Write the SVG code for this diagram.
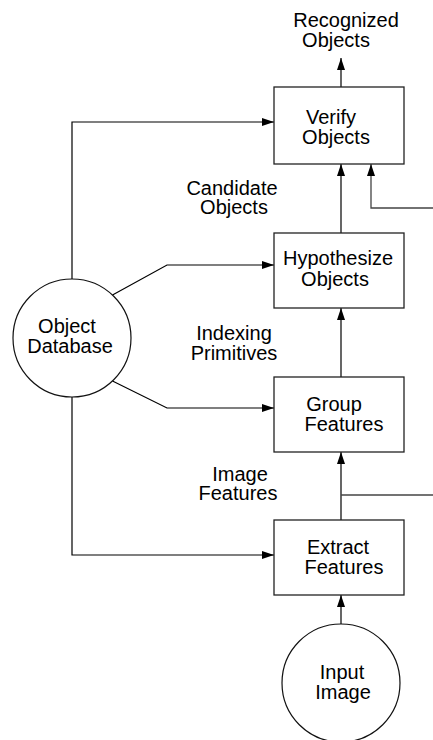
<svg xmlns="http://www.w3.org/2000/svg" width="433" height="740" viewBox="0 0 433 740">
<style>
.box{fill:#fff;stroke:#222;stroke-width:1.3}
.node{fill:#fff;stroke:#111;stroke-width:1.2}
.lbl{font-family:"Liberation Sans",Arial,Helvetica,sans-serif;font-size:20px;fill:#000;text-anchor:middle}
.con{fill:none;stroke:#000;stroke-width:1.2}
.side{fill:none;stroke:#444;stroke-width:1.3}
</style>
<defs>
<marker id="ah" viewBox="0 0 12 8" refX="12" refY="4" markerWidth="12" markerHeight="8" markerUnits="userSpaceOnUse" orient="auto">
<path d="M0,0 L12,4 L0,8 z" fill="#000"/>
</marker>
</defs>
<rect width="433" height="740" fill="#fff"/>
<g id="connectors">
<line class="con" x1="341" y1="87" x2="341" y2="58" marker-end="url(#ah)"/>
<line class="con" x1="341" y1="233" x2="341" y2="164" marker-end="url(#ah)"/>
<polyline class="side" points="433,208 371,208 371,164" marker-end="url(#ah)"/>
<line class="con" x1="341" y1="377" x2="341" y2="308" marker-end="url(#ah)"/>
<line class="con" x1="341" y1="520" x2="341" y2="452" marker-end="url(#ah)"/>
<line class="side" x1="341" y1="495" x2="433" y2="495"/>
<line class="con" x1="341" y1="624" x2="341" y2="595" marker-end="url(#ah)"/>
<polyline class="con" points="72,279 72,122 274,122" marker-end="url(#ah)"/>
<polyline class="con" points="112.5,295 167,265 274,265" marker-end="url(#ah)"/>
<polyline class="con" points="112.5,381 167,408 274,408" marker-end="url(#ah)"/>
<polyline class="con" points="72,397 72,555 274,555" marker-end="url(#ah)"/>
</g>
<g id="labels">
<text class="lbl" x="346" y="27">Recognized</text>
<text class="lbl" x="336" y="47">Objects</text>
<text class="lbl" x="232" y="195">Candidate</text>
<text class="lbl" x="234" y="214">Objects</text>
<text class="lbl" x="234" y="340">Indexing</text>
<text class="lbl" x="234" y="360">Primitives</text>
<text class="lbl" x="240" y="481">Image</text>
<text class="lbl" x="238" y="500">Features</text>
</g>
<g id="verify">
<rect class="box" x="274" y="87" width="130" height="77"/>
<text class="lbl" x="331" y="124">Verify</text>
<text class="lbl" x="336" y="144">Objects</text>
</g>
<g id="hypothesize">
<rect class="box" x="274" y="233" width="130" height="75"/>
<text class="lbl" x="338" y="265">Hypothesize</text>
<text class="lbl" x="335" y="286">Objects</text>
</g>
<g id="group">
<rect class="box" x="274" y="377" width="130" height="75"/>
<text class="lbl" x="334" y="411">Group</text>
<text class="lbl" x="344" y="431">Features</text>
</g>
<g id="extract">
<rect class="box" x="274" y="520" width="130" height="75"/>
<text class="lbl" x="338" y="554">Extract</text>
<text class="lbl" x="344" y="574">Features</text>
</g>
<g id="database">
<circle class="node" cx="72" cy="338" r="59"/>
<text class="lbl" x="67" y="333">Object</text>
<text class="lbl" x="70" y="353">Database</text>
</g>
<g id="input">
<circle class="node" cx="341" cy="683" r="59"/>
<text class="lbl" x="342" y="679">Input</text>
<text class="lbl" x="343" y="699">Image</text>
</g>
</svg>
